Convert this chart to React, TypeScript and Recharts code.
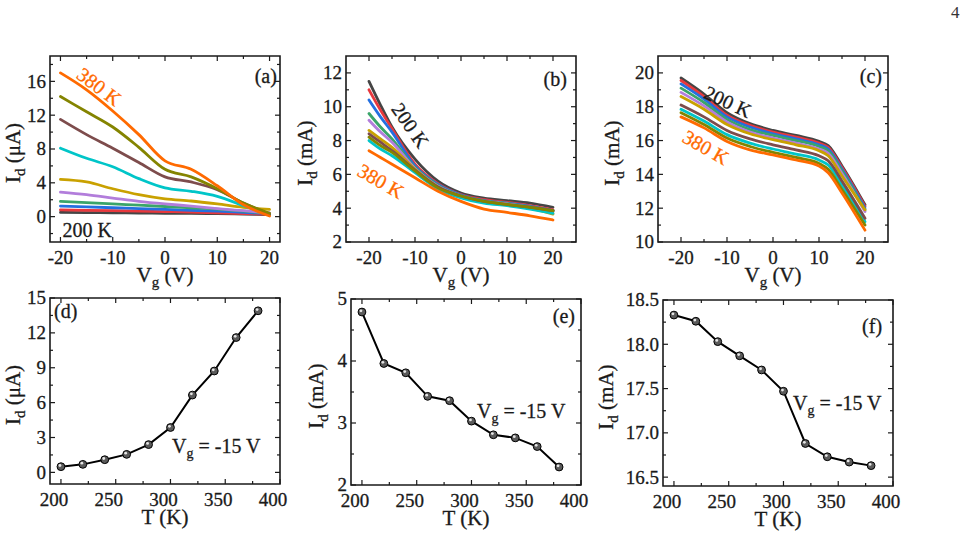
import React from 'react'
import { LineChart, Line, XAxis, YAxis, ReferenceArea, ReferenceDot } from 'recharts'

const SERIF = '"Liberation Serif", "Times New Roman", serif'

// measurement temperatures (K) and the colour of each transfer curve
const temps = [200, 220, 240, 260, 280, 300, 320, 340, 360, 380]
const colors = ['#454545', '#e8383d', '#2470e0', '#3aa56a', '#b27ddb', '#c9a100', '#00c5c8', '#7d4c4c', '#848400', '#ff6a00']

// (a) Id (μA) vs Vg, one row per temperature
const vgA = [-20, -15, -10, -5, 0, 5, 10, 15, 20]
const idA = [
  [0.5, 0.48, 0.45, 0.43, 0.4, 0.38, 0.35, 0.3, 0.25],
  [0.8, 0.75, 0.7, 0.65, 0.6, 0.55, 0.45, 0.35, 0.3],
  [1.25, 1.15, 1.05, 0.95, 0.85, 0.75, 0.65, 0.5, 0.35],
  [1.8, 1.65, 1.5, 1.35, 1.2, 1.05, 0.9, 0.65, 0.4],
  [2.9, 2.6, 2.2, 1.8, 1.5, 1.25, 0.95, 0.7, 0.45],
  [4.4, 4.1, 3.3, 2.6, 2.1, 1.85, 1.5, 1.1, 0.85],
  [8.1, 6.9, 5.9, 4.5, 3.4, 3.0, 2.4, 1.3, 0.2],
  [11.5, 9.7, 8.1, 6.4, 4.7, 4.1, 3.2, 1.6, 0.3],
  [14.2, 12.4, 10.6, 8.2, 5.6, 4.7, 3.3, 1.6, 0.4],
  [17.0, 15.0, 12.5, 9.7, 6.6, 5.6, 3.65, 1.4, 0.08],
]

// (b) Id (mA) vs Vg
const vgB = [-20, -17.5, -15, -10, -5, 0, 5, 10, 15, 20]
const idB = [
  [11.5, 10.1, 8.8, 6.9, 5.6, 4.9, 4.6, 4.45, 4.3, 4.05],
  [11.0, 9.8, 8.7, 6.6, 5.45, 4.8, 4.5, 4.35, 4.15, 3.9],
  [10.4, 9.4, 8.5, 6.5, 5.4, 4.78, 4.45, 4.3, 4.1, 3.85],
  [9.6, 8.8, 8.1, 6.4, 5.35, 4.75, 4.43, 4.28, 4.08, 3.85],
  [9.2, 8.5, 7.9, 6.35, 5.3, 4.72, 4.4, 4.25, 4.05, 3.8],
  [8.6, 8.1, 7.6, 6.3, 5.25, 4.7, 4.38, 4.2, 4.0, 3.65],
  [8.0, 7.5, 7.1, 6.1, 5.15, 4.6, 4.3, 4.15, 3.95, 3.7],
  [8.4, 7.9, 7.4, 6.25, 5.25, 4.72, 4.4, 4.22, 4.05, 3.85],
  [8.2, 7.7, 7.3, 6.2, 5.2, 4.72, 4.4, 4.22, 4.05, 3.85],
  [7.4, 7.0, 6.6, 5.8, 5.0, 4.4, 3.95, 3.75, 3.55, 3.3],
]

// (c) Id (mA) vs Vg
const vgC = [-20, -15, -10, -5, 0, 5, 10, 12, 15, 20]
const idC = [
  [19.7, 18.75, 17.65, 17.0, 16.6, 16.3, 15.95, 15.7, 14.5, 12.2],
  [19.55, 18.6, 17.5, 16.9, 16.5, 16.2, 15.85, 15.6, 14.4, 12.1],
  [19.35, 18.45, 17.4, 16.8, 16.4, 16.1, 15.75, 15.5, 14.3, 12.0],
  [19.1, 18.25, 17.25, 16.65, 16.3, 16.0, 15.65, 15.4, 14.2, 11.9],
  [18.85, 18.05, 17.1, 16.5, 16.15, 15.85, 15.5, 15.25, 14.05, 11.8],
  [18.6, 17.85, 16.95, 16.4, 16.05, 15.75, 15.4, 15.1, 13.9, 11.9],
  [17.85, 17.15, 16.35, 15.85, 15.5, 15.2, 14.85, 14.55, 13.35, 11.2],
  [18.1, 17.4, 16.6, 16.1, 15.75, 15.45, 15.1, 14.8, 13.6, 11.4],
  [17.65, 16.95, 16.15, 15.65, 15.3, 15.0, 14.65, 14.3, 13.1, 11.0],
  [17.4, 16.75, 15.95, 15.45, 15.15, 14.85, 14.5, 14.1, 12.9, 10.7],
]

// (d)-(f) Id at Vg = -15 V vs temperature
const tK = [200, 220, 240, 260, 280, 300, 320, 340, 360, 380]
const idD = [0.49, 0.69, 1.09, 1.55, 2.39, 3.86, 6.65, 8.72, 11.6, 13.9]
const idE = [4.79, 3.96, 3.81, 3.43, 3.36, 3.03, 2.81, 2.76, 2.62, 2.29]
const idF = [18.33, 18.26, 18.03, 17.87, 17.71, 17.47, 16.88, 16.73, 16.67, 16.63]

const vgMajor = [-20, -10, 0, 10, 20]
const vgMinor = [-15, -5, 5, 15]
const tMajor = [200, 250, 300, 350, 400]
const tMinor = [225, 275, 325, 375]

function curveRows(xs: number[], curves: number[][]) {
  return xs.map((x, i) => {
    const row: Record<string, number> = { x }
    curves.forEach((c, k) => {
      row['t' + temps[k]] = c[i]
    })
    return row
  })
}

const rowsA = curveRows(vgA, idA)
const rowsB = curveRows(vgB, idB)
const rowsC = curveRows(vgC, idC)
const rowsD = tK.map((x, i) => ({ x, y: idD[i] }))
const rowsE = tK.map((x, i) => ({ x, y: idE[i] }))
const rowsF = tK.map((x, i) => ({ x, y: idF[i] }))

// plot frame size and the space round it
const PW = 230
const PH = 186
const YW = 80
const XH = 50
const MT = 20
const MR = 10
const INK = '#1a1a1a'
const TICK_FS = 19
const TITLE_FS = 21

function XTick(props: any) {
  const { x, y, payload, major, shift } = props
  const isMajor = major.includes(payload.value)
  const len = isMajor ? 5 : 3
  return (
    <g>
      <line x1={x} x2={x} y1={y} y2={y - len} stroke={INK} strokeWidth={1.2} />
      <line x1={x} x2={x} y1={y - PH} y2={y - PH + len} stroke={INK} strokeWidth={1.2} />
      {isMajor && (
        <text
          x={x + shift}
          y={y + 22}
          textAnchor="middle"
          fontSize={TICK_FS}
          fontFamily={SERIF}
          fill={INK}
          stroke={INK}
          strokeWidth={0.3}
        >
          {payload.value}
        </text>
      )}
    </g>
  )
}

function YTick(props: any) {
  const { x, y, payload, major, fmt } = props
  const isMajor = major.includes(payload.value)
  const len = isMajor ? 5 : 3
  return (
    <g>
      <line x1={x} x2={x + len} y1={y} y2={y} stroke={INK} strokeWidth={1.2} />
      <line x1={x + PW} x2={x + PW - len} y1={y} y2={y} stroke={INK} strokeWidth={1.2} />
      {isMajor && (
        <text
          x={x - 4}
          y={y}
          dy="0.34em"
          textAnchor="end"
          fontSize={TICK_FS}
          fontFamily={SERIF}
          fill={INK}
          stroke={INK}
          strokeWidth={0.3}
        >
          {fmt(payload.value)}
        </text>
      )}
    </g>
  )
}

// axis title, optionally with a subscript after the first letter, e.g. I_d (mA)
function SubText({ main, sub, rest, size = TITLE_FS, ...attrs }: any) {
  return (
    <text fontFamily={SERIF} fill={INK} stroke={INK} strokeWidth={0.3} fontSize={size} {...attrs}>
      {main}
      {sub ? (
        <>
          <tspan fontSize={Math.round(size * 0.7)} dy={5}>
            {sub}
          </tspan>
          <tspan dy={-5}>{rest}</tspan>
        </>
      ) : (
        <tspan>{rest}</tspan>
      )}
    </text>
  )
}

function note(text: string, color: string, angle: number, anchor = 'middle') {
  return (p: any) => {
    const { x, y } = p.viewBox
    return (
      <text
        x={x}
        y={y}
        textAnchor={anchor}
        fontSize={20}
        fontFamily={SERIF}
        fill={color}
        stroke={color}
        strokeWidth={0.3}
        transform={angle ? `rotate(${angle}, ${x}, ${y})` : undefined}
        dy={angle ? '0.35em' : 0}
      >
        {text}
      </text>
    )
  }
}

function vgNote() {
  return (p: any) => {
    const { x, y } = p.viewBox
    return <SubText x={x} y={y} size={20} main="V" sub="g" rest=" = -15 V" />
  }
}

interface PanelProps {
  left: number
  top: number
  data: any[]
  xDomain: [number, number]
  yDomain: [number, number]
  xMajor: number[]
  xMinor: number[]
  yMajor: number[]
  yMinor: number[]
  fmtY?: (v: number) => string
  xTitle: [string, string, string]
  yTitle: [string, string, string]
  yGap: number
  xShift?: number
  children: React.ReactNode
}

function Panel(p: PanelProps) {
  const fmtY = p.fmtY || ((v: number) => String(v))
  return (
    <div style={{ position: 'absolute', left: p.left - YW, top: p.top - MT }}>
      <LineChart
        width={YW + PW + MR}
        height={MT + PH + XH}
        data={p.data}
        margin={{ top: MT, right: MR, left: 0, bottom: 0 }}
      >
        <XAxis
          dataKey="x"
          type="number"
          domain={p.xDomain}
          allowDataOverflow
          ticks={[...p.xMajor, ...p.xMinor]}
          interval={0}
          tickSize={0}
          tickMargin={0}
          tickLine={false}
          axisLine={false}
          height={XH}
          tick={(t: any) => <XTick {...t} major={p.xMajor} shift={p.xShift || 0} />}
          label={{
            content: (l: any) => {
              const vb = l.viewBox
              return (
                <SubText
                  x={vb.x + vb.width / 2}
                  y={vb.y + 40}
                  textAnchor="middle"
                  main={p.xTitle[0]}
                  sub={p.xTitle[1]}
                  rest={p.xTitle[2]}
                />
              )
            },
          }}
        />
        <YAxis
          type="number"
          domain={p.yDomain}
          allowDataOverflow
          ticks={[...p.yMajor, ...p.yMinor]}
          interval={0}
          tickSize={0}
          tickMargin={0}
          tickLine={false}
          axisLine={false}
          width={YW}
          tick={(t: any) => <YTick {...t} major={p.yMajor} fmt={fmtY} />}
          label={{
            content: (l: any) => {
              const vb = l.viewBox
              const cx = vb.x + vb.width - p.yGap
              const cy = vb.y + vb.height / 2 + 4
              return (
                <SubText
                  x={cx}
                  y={cy}
                  textAnchor="middle"
                  transform={`rotate(-90, ${cx}, ${cy})`}
                  main={p.yTitle[0]}
                  sub={p.yTitle[1]}
                  rest={p.yTitle[2]}
                />
              )
            },
          }}
        />
        {p.children}
        <ReferenceArea
          x1={p.xDomain[0]}
          x2={p.xDomain[1]}
          y1={p.yDomain[0]}
          y2={p.yDomain[1]}
          fill="none"
          stroke={INK}
          strokeWidth={1.6}
          ifOverflow="visible"
        />
      </LineChart>
    </div>
  )
}

function curveLines() {
  return temps.map((t, k) => (
    <Line
      key={t}
      dataKey={'t' + t}
      type="monotone"
      stroke={colors[k]}
      strokeWidth={2.8}
      strokeLinecap="round"
      dot={false}
      isAnimationActive={false}
    />
  ))
}

function Bead(props: any) {
  const { cx, cy } = props
  if (cx == null || cy == null) return null
  return (
    <g>
      <circle cx={cx} cy={cy} r={3.9} fill="#5a5a5a" stroke="#000" strokeWidth={1} />
      <circle cx={cx - 1} cy={cy - 1.2} r={1.4} fill="#e6e6e6" />
    </g>
  )
}

function tempLine() {
  return (
    <Line
      dataKey="y"
      type="linear"
      stroke="#000"
      strokeWidth={2}
      dot={(d: any) => <Bead key={d.index} {...d} />}
      isAnimationActive={false}
    />
  )
}

function dot(x: number, y: number, content: any) {
  return <ReferenceDot x={x} y={y} r={0} fill="none" stroke="none" ifOverflow="visible" label={{ content }} />
}

const ORANGE = '#ff6a00'

export default function App() {
  return (
    <div
      style={{
        position: 'absolute',
        left: 0,
        top: 0,
        width: 967,
        height: 559,
        background: '#fff',
        overflow: 'hidden',
        fontFamily: SERIF,
      }}
    >
      <div style={{ position: 'absolute', left: 951, top: 3, fontSize: 17, color: '#333' }}>4</div>

      <Panel
        left={50}
        top={56}
        data={rowsA}
        xDomain={[-22, 22]}
        yDomain={[-3, 19]}
        xMajor={vgMajor}
        xMinor={vgMinor}
        yMajor={[0, 4, 8, 12, 16]}
        yMinor={[-2, 2, 6, 10, 14, 18]}
        xTitle={['V', 'g', ' (V)']}
        yTitle={['I', 'd', ' (μA)']}
        yGap={30}
      >
        {curveLines()}
        {dot(-12.6, 15.4, note('380 K', ORANGE, 37))}
        {dot(-19.6, -2.4, note('200 K', INK, 0, 'start'))}
        {dot(21.4, 15.8, note('(a)', INK, 0, 'end'))}
      </Panel>

      <Panel
        left={346}
        top={56}
        data={rowsB}
        xDomain={[-25, 25]}
        yDomain={[2, 13]}
        xMajor={vgMajor}
        xMinor={vgMinor}
        yMajor={[2, 4, 6, 8, 10, 12]}
        yMinor={[3, 5, 7, 9, 11]}
        xTitle={['V', 'g', ' (V)']}
        yTitle={['I', 'd', ' (mA)']}
        yGap={34}
      >
        {curveLines()}
        {dot(-11, 8.9, note('200 K', INK, 55))}
        {dot(-17.4, 5.6, note('380 K', ORANGE, 30))}
        {dot(23, 11.2, note('(b)', INK, 0, 'end'))}
      </Panel>

      <Panel
        left={658}
        top={56}
        data={rowsC}
        xDomain={[-25, 25]}
        yDomain={[10, 21]}
        xMajor={vgMajor}
        xMinor={vgMinor}
        yMajor={[10, 12, 14, 16, 18, 20]}
        yMinor={[11, 13, 15, 17, 19]}
        xTitle={['V', 'g', ' (V)']}
        yTitle={['I', 'd', ' (mA)']}
        yGap={39}
      >
        {curveLines()}
        {dot(-9.8, 18.3, note('200 K', INK, 25))}
        {dot(-14.6, 15.6, note('380 K', ORANGE, 30))}
        {dot(23.7, 19.4, note('(c)', INK, 0, 'end'))}
      </Panel>

      <Panel
        left={50}
        top={298}
        data={rowsD}
        xDomain={[190, 400]}
        yDomain={[-1, 15]}
        xMajor={tMajor}
        xMinor={tMinor}
        yMajor={[0, 3, 6, 9, 12, 15]}
        yMinor={[1.5, 4.5, 7.5, 10.5, 13.5]}
        xTitle={['T', '', ' (K)']}
        yTitle={['I', 'd', ' (μA)']}
        yGap={30}
        xShift={-7}
      >
        {tempLine()}
        {dot(193.7, 13.3, note('(d)', INK, 0, 'start'))}
        {dot(301.4, 1.67, vgNote())}
      </Panel>

      <Panel
        left={351}
        top={299}
        data={rowsE}
        xDomain={[190, 400]}
        yDomain={[2, 5]}
        xMajor={tMajor}
        xMinor={tMinor}
        yMajor={[2, 3, 4, 5]}
        yMinor={[2.5, 3.5, 4.5]}
        xTitle={['T', '', ' (K)']}
        yTitle={['I', 'd', ' (mA)']}
        yGap={28}
        xShift={-7}
      >
        {tempLine()}
        {dot(394.5, 4.61, note('(e)', INK, 0, 'end'))}
        {dot(305, 3.08, vgNote())}
      </Panel>

      <Panel
        left={663}
        top={300}
        data={rowsF}
        xDomain={[190, 400]}
        yDomain={[16.4, 18.5]}
        xMajor={tMajor}
        xMinor={tMinor}
        yMajor={[16.5, 17, 17.5, 18, 18.5]}
        yMinor={[16.75, 17.25, 17.75, 18.25]}
        fmtY={(v) => v.toFixed(1)}
        xTitle={['T', '', ' (K)']}
        yTitle={['I', 'd', ' (mA)']}
        yGap={50}
        xShift={-7}
      >
        {tempLine()}
        {dot(390, 18.13, note('(f)', INK, 0, 'end'))}
        {dot(308.7, 17.26, vgNote())}
      </Panel>
    </div>
  )
}
